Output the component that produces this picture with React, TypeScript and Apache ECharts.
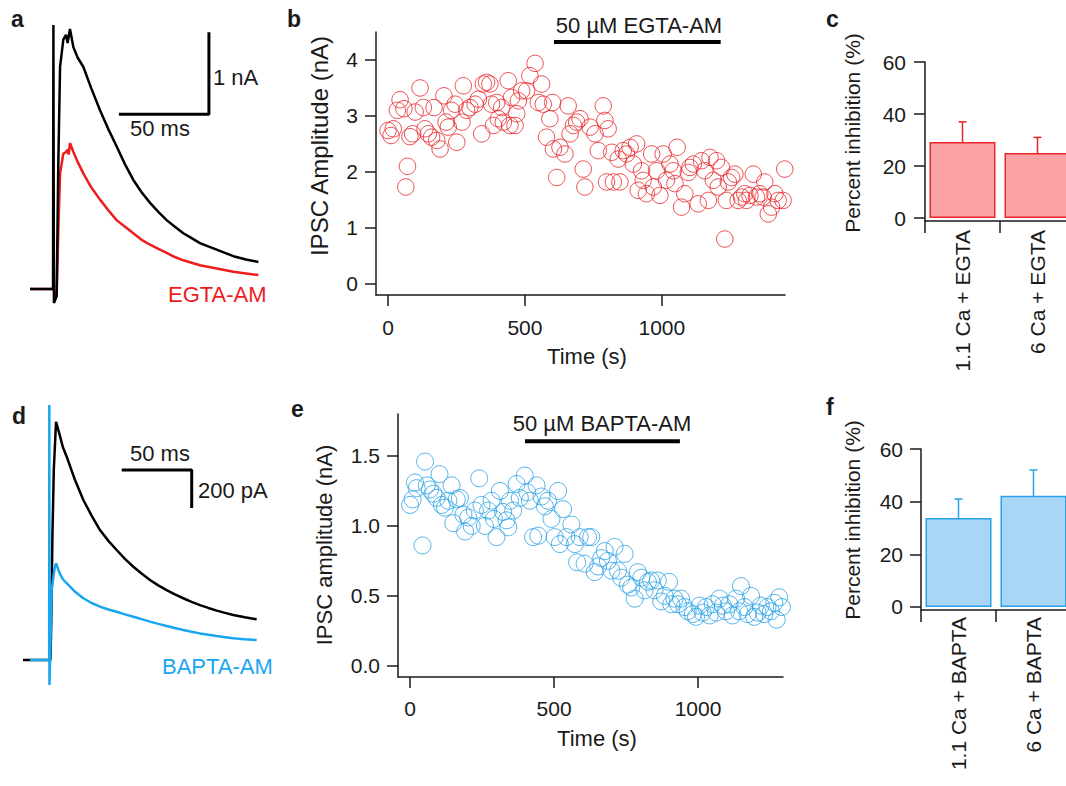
import React, { useEffect, useRef } from "react";
import * as echarts from "echarts";

const FONT = "Liberation Sans, Arial, sans-serif";
const INK = "#1a1a1a";
const RED = "#e8262a";
const RED_FILL = "#fba2a4";
const BLUE = "#2aa2e6";
const BLUE_FILL = "#a9d5f7";
const BLUE_TRACE = "#18a6f0";

// ---------- panel a : example IPSCs (time ms, current nA) ----------
const traceAControl = [
  [0, 0], [12.8, 0], [13, 3.22], [13.3, -0.17], [14.8, -0.09], [15.7, 1.49], [16.7, 2.71],
  [18.5, 3.04], [20, 3.1], [20.9, 3.0], [22.2, 3.17], [24.1, 2.95], [26.5, 2.82], [29.6, 2.71],
  [34, 2.45], [38.9, 2.18], [43.5, 1.95], [48.1, 1.74], [52.8, 1.52], [57.4, 1.33], [62, 1.18],
  [66.7, 1.05], [71.3, 0.94], [75.9, 0.84], [80.5, 0.76], [85.2, 0.68], [89.8, 0.62], [94.4, 0.56],
  [99, 0.52], [103.7, 0.48], [108.3, 0.44], [113, 0.4], [120, 0.36], [126.9, 0.33],
];
const traceAEgta = [
  [0, 0], [12.8, 0], [14.8, -0.09], [15.7, 0.68], [16.7, 1.41], [18.5, 1.65], [20, 1.67],
  [20.9, 1.7], [21.5, 1.64], [22.2, 1.78], [24.1, 1.67], [26.5, 1.55], [29.6, 1.41], [34, 1.24],
  [38.9, 1.09], [43.5, 0.96], [48.1, 0.84], [52.8, 0.76], [57.4, 0.68], [62, 0.6], [66.7, 0.54],
  [71.3, 0.49], [75.9, 0.44], [80.5, 0.39], [85.2, 0.35], [89.8, 0.32], [94.4, 0.29],
  [103.7, 0.25], [113, 0.21], [120, 0.19], [126.9, 0.17],
];
const scaleBarA = [[49.4, 2.13], [99.4, 2.13], [99.4, 3.13]]; // 50 ms, 1 nA

// ---------- panel b : EGTA-AM time course (s, nA) ----------
const egtaPoints = [
  [0, 2.74], [11, 2.65], [19, 2.77], [34, 3.1], [44, 3.29], [58, 3.13], [65, 1.73], [71, 2.1],
  [80, 2.63], [90, 2.68], [99, 3.07], [117, 3.5], [129, 3.15], [135, 2.77], [147, 2.68], [159, 2.62],
  [168, 3.15], [178, 2.56], [190, 2.41], [204, 3.36], [212, 2.89], [220, 2.8], [232, 3.1], [245, 3.21],
  [251, 2.53], [270, 2.89], [275, 3.54], [287, 3.1], [299, 3.15], [318, 3.21], [330, 3.3], [342, 2.68],
  [348, 3.57], [360, 3.6], [372, 3.57], [378, 3.21], [385, 2.83], [397, 3.24], [403, 2.95], [415, 3.15],
  [421, 2.89], [439, 3.63], [445, 2.83], [451, 3.33], [464, 2.83], [470, 3.04], [476, 3.27], [488, 3.45],
  [506, 3.45], [518, 3.72], [537, 3.94], [549, 3.24], [561, 3.57], [567, 3.21], [579, 2.62], [591, 2.95],
  [601, 3.24], [604, 2.41], [616, 1.9], [628, 2.44], [646, 2.32], [658, 3.18], [665, 2.68], [677, 2.83],
  [689, 2.89], [701, 2.95], [713, 2.05], [719, 1.73], [738, 2.8], [756, 2.68], [768, 2.38], [786, 3.18],
  [792, 2.92], [798, 1.82], [804, 2.77], [817, 2.35], [823, 1.82], [841, 2.23], [847, 1.82], [859, 2.38],
  [871, 2.32], [884, 2.44], [896, 2.14], [908, 2.5], [914, 1.67], [926, 2.02], [932, 1.85], [944, 1.61],
  [963, 2.32], [969, 1.73], [981, 2.02], [993, 1.58], [1005, 2.32], [1017, 1.85], [1030, 2.14],
  [1042, 2.02], [1048, 1.79], [1056, 2.44], [1072, 1.37], [1084, 1.61], [1097, 1.99], [1103, 2.08],
  [1115, 2.14], [1133, 1.43], [1145, 2.2], [1157, 2.02], [1170, 1.49], [1176, 2.26], [1188, 1.85],
  [1200, 2.2], [1206, 1.73], [1218, 2.08], [1230, 0.8], [1236, 1.49], [1243, 1.82], [1255, 1.9],
  [1267, 1.96], [1279, 1.49], [1291, 1.55], [1303, 1.61], [1309, 1.49], [1322, 1.58], [1334, 1.96],
  [1346, 1.55], [1358, 1.61], [1370, 1.55], [1376, 1.82], [1389, 1.25], [1401, 1.37], [1413, 1.61],
  [1425, 1.49], [1443, 1.49], [1449, 2.05],
];
const egtaDrugBar = [[606, 4.32], [1215, 4.32]];
const egtaXTicks = [0, 500, 1000];
const egtaYTicks = [0, 1, 2, 3, 4];

// ---------- panel c : percent inhibition, EGTA ----------
const cCategories = ["1.1 Ca + EGTA", "6 Ca + EGTA"];
const cMeans = [29.2, 25];
const cErrors = [7.8, 6];
const pctTicks = [0, 20, 40, 60];

// ---------- panel d : example IPSCs (time ms, current pA) ----------
const traceDControl = [
  [0, 0], [19.6, 0], [20.2, 200], [21, 650], [22, 1000], [23.6, 1254], [26, 1190], [28.5, 1120],
  [31.2, 1070], [37, 950], [43.1, 842], [49, 760], [55, 684], [61, 627], [66.9, 579], [72.8, 532],
  [78.8, 491], [84.7, 455], [90.7, 421], [96.6, 393], [102.6, 368], [108.5, 345], [114.5, 325],
  [120.4, 306], [126.4, 289], [132.4, 274], [138.4, 260], [144.3, 248], [150.2, 237], [158.5, 225],
  [166.9, 214],
];
const traceDBapta = [
  [5, 0], [18.7, 0], [18.8, 1342], [18.9, -132], [20.5, 368], [22.5, 480], [23.6, 509], [26, 460],
  [28.5, 425], [31.2, 404], [37, 360], [43.1, 325], [49, 300], [55, 281], [61, 266], [66.9, 254],
  [72.8, 240], [78.8, 228], [84.7, 215], [90.7, 202], [96.6, 190], [102.6, 179], [108.5, 168],
  [114.5, 158], [120.4, 149], [126.4, 140], [132.4, 133], [138.4, 126], [144.3, 120], [150.2, 114],
  [158.5, 109], [166.9, 105],
];
const scaleBarD = [[70.5, 1000], [120.5, 1000], [120.5, 800]]; // 50 ms, 200 pA

// ---------- panel e : BAPTA-AM time course (s, nA) ----------
const baptaPoints = [
  [0, 1.15], [9, 1.19], [17, 1.31], [23, 1.27], [43, 0.86], [52, 1.46], [58, 1.29], [69, 1.26],
  [81, 1.23], [92, 1.2], [102, 1.37], [110, 1.15], [121, 1.13], [133, 1.18], [144, 1.29], [150, 1.02],
  [162, 1.19], [173, 1.2], [185, 1.08], [191, 0.96], [202, 1.06], [214, 1.0], [225, 1.11], [240, 1.34],
  [248, 1.15], [260, 1.0], [271, 1.11], [283, 1.18], [291, 1.05], [300, 0.92], [312, 1.25], [323, 1.1],
  [335, 1.04], [341, 0.99], [347, 1.18], [358, 1.11], [370, 1.3], [381, 1.2], [398, 1.36], [407, 1.24],
  [416, 1.18], [427, 0.92], [439, 1.29], [445, 0.93], [456, 1.21], [468, 1.14], [479, 1.18], [491, 1.05],
  [502, 0.92], [514, 1.25], [520, 0.87], [531, 1.12], [543, 0.92], [560, 1.01], [572, 0.87], [580, 0.74],
  [589, 0.92], [606, 0.73], [618, 0.92], [629, 0.92], [641, 0.67], [653, 0.71], [664, 0.77], [676, 0.82],
  [687, 0.75], [699, 0.68], [710, 0.85], [722, 0.68], [733, 0.63], [745, 0.8], [756, 0.58], [768, 0.56],
  [780, 0.48], [791, 0.67], [803, 0.63], [814, 0.54], [826, 0.6], [837, 0.61], [849, 0.54], [860, 0.61],
  [872, 0.46], [884, 0.5], [899, 0.6], [907, 0.44], [918, 0.48], [930, 0.44], [941, 0.48], [953, 0.42],
  [964, 0.39], [982, 0.37], [993, 0.35], [1005, 0.43], [1016, 0.38], [1028, 0.42], [1040, 0.36],
  [1051, 0.44], [1063, 0.38], [1074, 0.48], [1086, 0.43], [1097, 0.39], [1109, 0.44], [1120, 0.36],
  [1132, 0.48], [1143, 0.39], [1149, 0.57], [1161, 0.42], [1172, 0.37], [1184, 0.5], [1195, 0.35],
  [1207, 0.38], [1218, 0.43], [1230, 0.37], [1241, 0.42], [1253, 0.39], [1265, 0.45], [1273, 0.33],
  [1282, 0.49], [1291, 0.42],
];
const baptaDrugBar = [[399, 1.605], [937, 1.605]];
const baptaXTicks = [0, 500, 1000];
const baptaYTicks = [0, 0.5, 1, 1.5];

// ---------- panel f : percent inhibition, BAPTA ----------
const fCategories = ["1.1 Ca + BAPTA", "6 Ca + BAPTA"];
const fMeans = [33.8, 42.2];
const fErrors = [7.2, 9.8];

const axisLineStyle = { color: INK, width: 1.5 };
const tickFont = { fontFamily: FONT, fontSize: 21, color: INK };

function hiddenAxis(gridIndex: number, min: number, max: number) {
  return { type: "value", gridIndex, min, max, show: false };
}

function valAxis(gridIndex: number, min: number, max: number, ticks: number[], margin: number, fmt: (v: number) => string) {
  return {
    type: "value",
    gridIndex,
    min,
    max,
    axisLine: { show: true, onZero: false, lineStyle: axisLineStyle },
    axisTick: { show: true, length: 11, customValues: ticks, lineStyle: axisLineStyle },
    axisLabel: { show: true, customValues: ticks, margin, ...tickFont, formatter: fmt },
    splitLine: { show: false },
  };
}

const plain = (v: number) => String(v);
const oneDecimal = (v: number) => v.toFixed(1);

function catAxis(gridIndex: number, cats: string[], margin: number) {
  return {
    type: "category",
    gridIndex,
    data: cats,
    boundaryGap: true,
    axisLine: { show: true, onZero: false, lineStyle: axisLineStyle },
    axisTick: { show: true, length: 12, alignWithLabel: false, interval: 0, lineStyle: axisLineStyle },
    axisLabel: { rotate: 90, margin, interval: 0, ...tickFont },
    splitLine: { show: false },
  };
}

function errRender(color: string) {
  return (params: any, api: any) => {
    const i = api.value(0);
    const base = api.coord([i, api.value(1)]);
    const top = api.coord([i, api.value(1) + api.value(2)]);
    const style = { stroke: color, lineWidth: 1.5 };
    return {
      type: "group",
      children: [
        { type: "line", shape: { x1: base[0], y1: base[1], x2: base[0], y2: top[1] }, style },
        { type: "line", shape: { x1: base[0] - 4, y1: top[1], x2: base[0] + 4, y2: top[1] }, style },
      ],
    };
  };
}

function lineSeries(axis: number, data: number[][], color: string, width: number, z = 2) {
  return {
    type: "line",
    xAxisIndex: axis,
    yAxisIndex: axis,
    data,
    showSymbol: false,
    symbol: "none",
    lineStyle: { color, width },
    z,
    silent: true,
  };
}

function txt(text: string, x: number, y: number, opts: any = {}) {
  return {
    type: "text",
    x,
    y,
    rotation: opts.rotation || 0,
    z: 100,
    style: {
      text,
      fill: opts.color || INK,
      font: `${opts.weight || "normal"} ${opts.size || 22}px ${FONT}`,
      align: opts.align || "left",
      verticalAlign: opts.vAlign || "middle",
    },
  };
}

export default function App() {
  const ref = useRef<HTMLDivElement>(null);

  useEffect(() => {
    if (!ref.current) return;
    const chart = echarts.init(ref.current, null, { renderer: "svg" });
    const grids = [
      { left: 30, top: 2, width: 234, height: 328 },
      { left: 376, top: 32, width: 409, height: 263 },
      { left: 925, top: 62, width: 150, height: 159 },
      { left: 23, top: 394, width: 252, height: 304 },
      { left: 398, top: 414, width: 385, height: 263 },
      { left: 921, top: 449, width: 150, height: 161 },
    ].map((g) => ({ ...g, containLabel: false, outerBoundsMode: "none" }));

    const option: any = {
      animation: false,
      backgroundColor: "#ffffff",
      grid: grids,
      xAxis: [
        hiddenAxis(0, 0, 130),
        valAxis(1, -44, 1450, egtaXTicks, 22, plain),
        catAxis(2, cCategories, 9),
        hiddenAxis(3, 0, 180),
        valAxis(4, -42, 1295, baptaXTicks, 21, plain),
        catAxis(5, fCategories, 7),
      ],
      yAxis: [
        hiddenAxis(0, -0.5, 3.5),
        valAxis(1, -0.2, 4.5, egtaYTicks, 18, plain),
        valAxis(2, -1.15, 60, pctTicks, 19, plain),
        hiddenAxis(3, -200, 1400),
        valAxis(4, -0.08, 1.8, baptaYTicks, 18, oneDecimal),
        valAxis(5, -1.14, 60, pctTicks, 18, plain),
      ],
      series: [
        // panel a
        lineSeries(0, traceAEgta, "#ee1c1c", 2.5, 2),
        lineSeries(0, traceAControl, "#000000", 2.5, 3),
        lineSeries(0, scaleBarA, "#000000", 3, 3),
        // panel b
        {
          type: "scatter",
          xAxisIndex: 1,
          yAxisIndex: 1,
          data: egtaPoints,
          symbol: "circle",
          symbolSize: 16.5,
          itemStyle: { color: "rgba(255,255,255,0)", borderColor: RED, borderWidth: 1 },
          silent: true,
        },
        lineSeries(1, egtaDrugBar, "#000000", 4, 3),
        // panel c
        {
          type: "bar",
          xAxisIndex: 2,
          yAxisIndex: 2,
          data: cMeans,
          barWidth: 66,
          itemStyle: { color: RED_FILL, borderColor: RED, borderWidth: 1.5 },
          silent: true,
        },
        {
          type: "custom",
          xAxisIndex: 2,
          yAxisIndex: 2,
          data: cMeans.map((m, i) => [i, m, cErrors[i]]),
          encode: { x: 0, y: 1 },
          renderItem: errRender(RED),
          z: 5,
          silent: true,
        },
        // panel d
        lineSeries(3, traceDControl, "#000000", 2.5, 2),
        lineSeries(3, traceDBapta, BLUE_TRACE, 2.5, 3),
        lineSeries(3, scaleBarD, "#000000", 3, 3),
        // panel e
        {
          type: "scatter",
          xAxisIndex: 4,
          yAxisIndex: 4,
          data: baptaPoints,
          symbol: "circle",
          symbolSize: 17,
          itemStyle: { color: "rgba(255,255,255,0)", borderColor: BLUE, borderWidth: 1 },
          silent: true,
        },
        lineSeries(4, baptaDrugBar, "#000000", 4, 3),
        // panel f
        {
          type: "bar",
          xAxisIndex: 5,
          yAxisIndex: 5,
          data: fMeans,
          barWidth: 66,
          itemStyle: { color: BLUE_FILL, borderColor: BLUE, borderWidth: 1.5 },
          silent: true,
        },
        {
          type: "custom",
          xAxisIndex: 5,
          yAxisIndex: 5,
          data: fMeans.map((m, i) => [i, m, fErrors[i]]),
          encode: { x: 0, y: 1 },
          renderItem: errRender(BLUE),
          z: 5,
          silent: true,
        },
      ],
      graphic: [
        // panel letters
        txt("a", 11, 30, { weight: "bold", size: 23, vAlign: "bottom" }),
        txt("b", 287, 30, { weight: "bold", size: 23, vAlign: "bottom" }),
        txt("c", 826, 30, { weight: "bold", size: 23, vAlign: "bottom" }),
        txt("d", 12, 427, { weight: "bold", size: 23, vAlign: "bottom" }),
        txt("e", 291, 420, { weight: "bold", size: 23, vAlign: "bottom" }),
        txt("f", 826, 418, { weight: "bold", size: 23, vAlign: "bottom" }),
        // panel a labels
        txt("1 nA", 213, 77),
        txt("50 ms", 130, 128),
        txt("EGTA-AM", 168, 294, { color: "#ee1c1c" }),
        // panel b labels
        txt("50 µM EGTA-AM", 639, 25, { align: "center" }),
        txt("IPSC Amplitude (nA)", 319, 146, { align: "center", rotation: Math.PI / 2, size: 24 }),
        txt("Time (s)", 587, 356, { align: "center" }),
        // panel c
        txt("Percent inhibition (%)", 852, 133, { align: "center", rotation: Math.PI / 2, size: 21 }),
        // panel d labels
        txt("50 ms", 130, 453),
        txt("200 pA", 198, 490),
        txt("BAPTA-AM", 162, 666, { color: BLUE_TRACE }),
        // panel e labels
        txt("50 µM BAPTA-AM", 602, 423, { align: "center" }),
        txt("IPSC amplitude (nA)", 324, 545, { align: "center", rotation: Math.PI / 2, size: 22 }),
        txt("Time (s)", 597, 738, { align: "center" }),
        // panel f
        txt("Percent inhibition (%)", 852, 520, { align: "center", rotation: Math.PI / 2, size: 21 }),
      ],
    };
    chart.setOption(option);
    return () => chart.dispose();
  }, []);

  return (
    <div
      ref={ref}
      style={{ position: "absolute", left: 0, top: 0, width: 1066, height: 786, background: "#fff" }}
    />
  );
}
